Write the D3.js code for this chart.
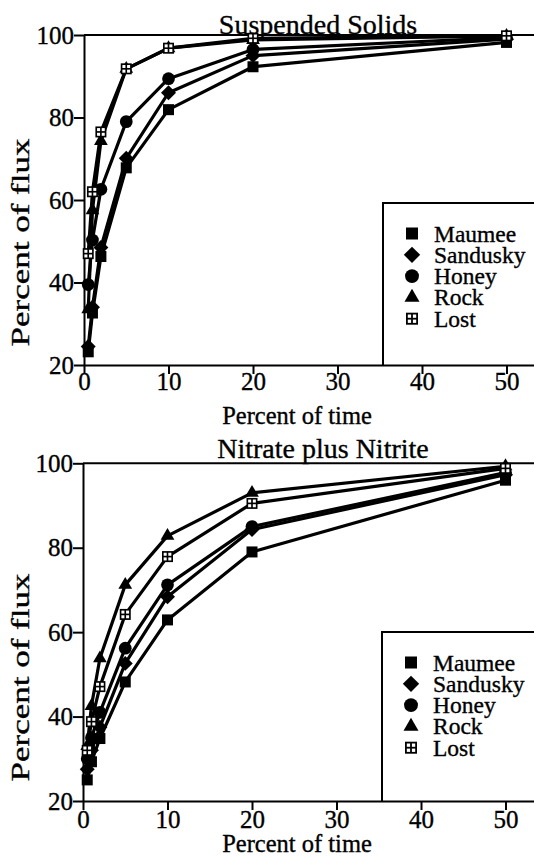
<!DOCTYPE html>
<html>
<head>
<meta charset="utf-8">
<script src="https://cdn.jsdelivr.net/npm/d3@7"></script>
<style>
  html, body { margin: 0; padding: 0; background: #fff; }
  svg { display: block; }
  svg text { font-family: "Liberation Serif", "Times New Roman", Times, serif; fill: #000; stroke: #000; stroke-width: 0.35px; }
</style>
</head>
<body>
<svg id="chart" width="534" height="861"></svg>
<script>
// Percent of time (x) at which each cumulative flux value was computed
const percentOfTime = [0.5, 1, 2, 5, 10, 20, 50];
const rivers = ["Maumee", "Sandusky", "Honey", "Rock", "Lost"];
const markerKinds = ["square", "diamond", "circle", "triangle", "gridSquare"];

// Suspended solids: cumulative percent of flux
const ssMaumee   = [23.2, 32.6, 46.3, 67.8, 81.9, 92.3, 98.2];
const ssSandusky = [24.5, 34.0, 48.5, 70.1, 86.0, 95.0, 99.0];
const ssHoney    = [39.5, 50.3, 62.6, 79.0, 89.4, 96.5, 99.4];
const ssRock     = [33.5, 57.5, 74.3, 91.8, 96.8, 98.8, 99.8];
const ssLost     = [47.0, 62.0, 76.5, 91.8, 96.8, 99.2, 99.8];

// Nitrate plus nitrite: cumulative percent of flux
const nnMaumee   = [25.0, 29.3, 34.8, 48.2, 62.9, 79.0, 96.0];
const nnSandusky = [27.5, 32.0, 37.5, 52.6, 68.4, 84.3, 97.3];
const nnHoney    = [30.0, 35.0, 41.0, 56.2, 71.2, 85.0, 97.8];
const nnRock     = [33.0, 42.5, 53.8, 71.2, 82.8, 93.0, 99.3];
const nnLost     = [32.0, 38.8, 47.1, 64.2, 77.9, 90.5, 98.8];

const xTickValues = [0, 10, 20, 30, 40, 50];
const yTickValues = [20, 40, 60, 80, 100];

const W = 534;
const PX_PER_UNIT = 8.45;

const panels = [
  {
    title: "Suspended Solids",
    series: [ssMaumee, ssSandusky, ssHoney, ssRock, ssLost],
    top: 35, bottom: 365, left: 84,
    legendLeft: 383, legendTop: 203,
    titleX: 318, titleBase: 33.5,
    yLabelMid: 242.5, xTitleBase: 423.5, xTickPad: -2
  },
  {
    title: "Nitrate plus Nitrite",
    series: [nnMaumee, nnSandusky, nnHoney, nnRock, nnLost],
    top: 463.3, bottom: 801, left: 83,
    legendLeft: 382, legendTop: 632,
    titleX: 323, titleBase: 457.5,
    yLabelMid: 677.5, xTitleBase: 852, xTickPad: 0
  }
];

const svg = d3.select("#chart");

// Draws one plotting symbol centred on (cx, cy)
function drawMarker(sel, kind, cx, cy, s) {
  const g = sel.append("g").attr("transform", `translate(${cx},${cy})`);
  if (kind === "square") {
    g.append("rect").attr("x", -s / 2).attr("y", -s / 2).attr("width", s).attr("height", s).attr("fill", "#000");
  } else if (kind === "diamond") {
    const h = s * 0.68;
    g.append("path").attr("d", `M0,${-h}L${h},0L0,${h}L${-h},0Z`).attr("fill", "#000");
  } else if (kind === "circle") {
    g.append("circle").attr("r", s * 0.58).attr("fill", "#000");
  } else if (kind === "triangle") {
    const a = s * 1.25, hh = a * Math.sqrt(3) / 2;
    g.append("path").attr("d", `M0,${-hh * 2 / 3}L${a / 2},${hh / 3}L${-a / 2},${hh / 3}Z`).attr("fill", "#000");
  } else if (kind === "gridSquare") {
    g.append("rect").attr("x", -s / 2).attr("y", -s / 2).attr("width", s).attr("height", s).attr("fill", "#000");
    const b = s * 0.15, gap = s * 0.15;
    const w = (s - 2 * b - gap) / 2;
    [[-s / 2 + b, -s / 2 + b], [gap / 2, -s / 2 + b], [-s / 2 + b, gap / 2], [gap / 2, gap / 2]].forEach(([px, py]) => {
      g.append("rect").attr("x", px).attr("y", py).attr("width", w).attr("height", w).attr("fill", "#fff");
    });
  }
}

panels.forEach(p => {
  const x = d3.scaleLinear().domain([0, (W - p.left) / PX_PER_UNIT]).range([p.left, W]);
  const y = d3.scaleLinear().domain([20, 100]).range([p.bottom, p.top]);
  const g = svg.append("g");

  // top frame line at 100 %
  g.append("line")
    .attr("x1", p.left).attr("x2", W)
    .attr("y1", y(100)).attr("y2", y(100))
    .attr("stroke", "#000").attr("stroke-width", 2);

  // y axis
  const yAxis = g.append("g")
    .attr("transform", `translate(${p.left},0)`)
    .call(d3.axisLeft(y).tickValues(yTickValues).tickSize(10).tickSizeOuter(0).tickPadding(0));
  // x axis
  const xAxis = g.append("g")
    .attr("transform", `translate(0,${p.bottom})`)
    .call(d3.axisBottom(x).tickValues(xTickValues).tickSize(9).tickSizeOuter(0).tickPadding(p.xTickPad));

  [yAxis, xAxis].forEach(ax => {
    ax.attr("font-family", null).attr("font-size", 25);
    ax.select(".domain").attr("stroke-width", 2);
    ax.selectAll(".tick line").attr("stroke-width", 2);
  });

  // legend box (open on the right, closed by the x axis)
  g.append("path")
    .attr("d", `M${p.legendLeft},${p.bottom}V${p.legendTop}H${W}`)
    .attr("fill", "none").attr("stroke", "#000").attr("stroke-width", 2);

  const legend = g.append("g");
  rivers.forEach((name, i) => {
    const cy = p.legendTop + 30.5 + i * 21.3;
    drawMarker(legend, markerKinds[i], p.legendLeft + 29, cy, 12);
    legend.append("text")
      .attr("x", p.legendLeft + 51).attr("y", cy + 8)
      .attr("font-size", 23.5)
      .text(name);
  });

  // series lines
  const line = d3.line()
    .x((d, i) => x(percentOfTime[i]))
    .y(d => y(d));
  p.series.forEach(vals => {
    g.append("path").datum(vals)
      .attr("d", line)
      .attr("fill", "none").attr("stroke", "#000")
      .attr("stroke-width", 3.2).attr("stroke-linejoin", "round");
  });

  // series markers
  p.series.forEach((vals, si) => {
    vals.forEach((v, i) => drawMarker(g, markerKinds[si], x(percentOfTime[i]), y(v), 11));
  });

  // panel title
  g.append("text")
    .attr("x", p.titleX).attr("y", p.titleBase)
    .attr("text-anchor", "middle")
    .attr("font-size", 28)
    .text(p.title);

  // axis titles
  g.append("text")
    .attr("x", 297).attr("y", p.xTitleBase)
    .attr("text-anchor", "middle")
    .attr("font-size", 24.5)
    .text("Percent of time");

  g.append("text")
    .attr("transform", `translate(29,${p.yLabelMid}) rotate(-90)`)
    .attr("text-anchor", "middle")
    .attr("font-size", 24.5)
    .attr("textLength", 208).attr("lengthAdjust", "spacingAndGlyphs")
    .text("Percent of flux");
});
</script>
</body>
</html>
